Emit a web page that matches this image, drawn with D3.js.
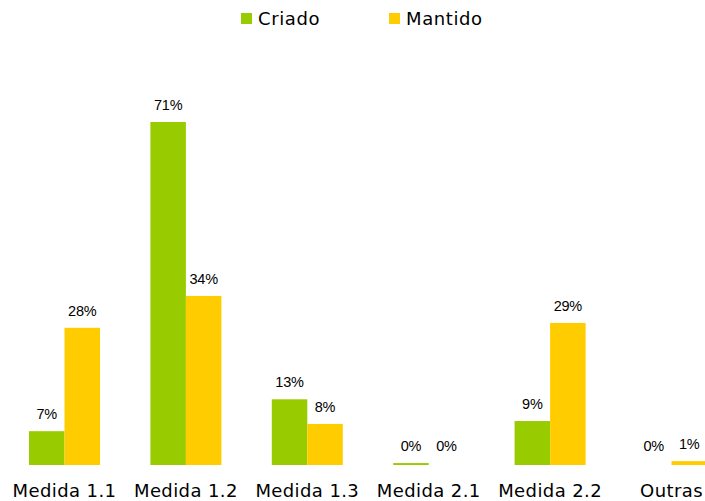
<!DOCTYPE html>
<html>
<head>
<meta charset="utf-8">
<script src="https://cdn.jsdelivr.net/npm/d3@7"></script>
<style>
  body { margin: 0; background: #fff; }
  .axis-label { font-family: "DejaVu Sans", Verdana, sans-serif; font-size: 18px; fill: #000; letter-spacing: 0.4px; }
  .value-label { font-family: "Liberation Sans", Arial, sans-serif; font-size: 14.5px; fill: #000; letter-spacing: -0.2px; }
  .legend-text { font-family: "DejaVu Sans", Verdana, sans-serif; font-size: 18px; fill: #000; letter-spacing: 0.6px; }
</style>
</head>
<body>
<div id="chart"></div>
<script>
var CATEGORIES = ['Medida 1.1', 'Medida 1.2', 'Medida 1.3', 'Medida 2.1', 'Medida 2.2', 'Outras'];
var SERIES = ['Criado', 'Mantido'];
var CRIADO = [7.0, 71.0, 13.6, 0.4, 9.1, 0];
var MANTIDO = [28.4, 35.0, 8.5, 0, 29.4, 0.8];
var CRIADO_LABELS = ['7%', '71%', '13%', '0%', '9%', '0%'];
var MANTIDO_LABELS = ['28%', '34%', '8%', '0%', '29%', '1%'];
var COLORS = ['#99cc00', '#ffcc00'];

function drawChart(){
    var width = 705;
    var height = 501;
    var baseline = 465;
    var barTop = 122;

    var svg = d3.select('#chart')
        .append('svg')
        .attr('width', width)
        .attr('height', height);

    var x = d3.scaleBand()
        .domain(CATEGORIES)
        .range([3.8, 3.8 + 121.4 * CATEGORIES.length])
        .paddingInner(0.415)
        .paddingOuter(0.2075);

    var x1 = d3.scaleBand()
        .domain(SERIES)
        .range([0, x.bandwidth()]);

    var y = d3.scaleLinear()
        .domain([0, 71])
        .range([baseline, barTop]);

    var rows = CATEGORIES.map(function(c, i){
        return {cat: c, values: [
            {s: 'Criado', v: CRIADO[i], label: CRIADO_LABELS[i]},
            {s: 'Mantido', v: MANTIDO[i], label: MANTIDO_LABELS[i]}
        ]};
    });

    var groups = svg.selectAll('g.group')
        .data(rows)
        .enter()
        .append('g')
        .attr('class', 'group')
        .attr('transform', (d) => 'translate(' + x(d.cat) + ',0)');

    groups.selectAll('rect')
        .data((d) => d.values)
        .enter()
        .append('rect')
        .attr('x', (d) => x1(d.s))
        .attr('width', x1.bandwidth())
        .attr('y', (d) => y(d.v))
        .attr('height', (d) => baseline - y(d.v))
        .style('fill', (d, i) => COLORS[i]);

    groups.selectAll('text')
        .data((d) => d.values)
        .enter()
        .append('text')
        .attr('class', 'value-label')
        .attr('x', (d) => x1(d.s) + x1.bandwidth() / 2)
        .attr('y', (d) => Math.min(y(d.v), baseline - 2) - 12)
        .attr('text-anchor', 'middle')
        .text((d) => d.label);

    // category axis labels (no axis line)
    svg.selectAll('text.axis-label')
        .data(CATEGORIES)
        .enter()
        .append('text')
        .attr('class', 'axis-label')
        .attr('x', (d) => x(d) + x.bandwidth() / 2)
        .attr('y', 497)
        .attr('text-anchor', 'middle')
        .text((d) => d);

    // legend
    var legendX = [241, 389];
    var legend = svg.selectAll('g.legend')
        .data(SERIES)
        .enter()
        .append('g')
        .attr('class', 'legend')
        .attr('transform', (d, i) => 'translate(' + legendX[i] + ',0)');

    legend.append('rect')
        .attr('x', 0)
        .attr('y', 13)
        .attr('width', 11)
        .attr('height', 11)
        .style('fill', (d, i) => COLORS[i]);

    legend.append('text')
        .attr('class', 'legend-text')
        .attr('x', 17)
        .attr('y', 25)
        .text((d) => d);
}

drawChart();
</script>
</body>
</html>
